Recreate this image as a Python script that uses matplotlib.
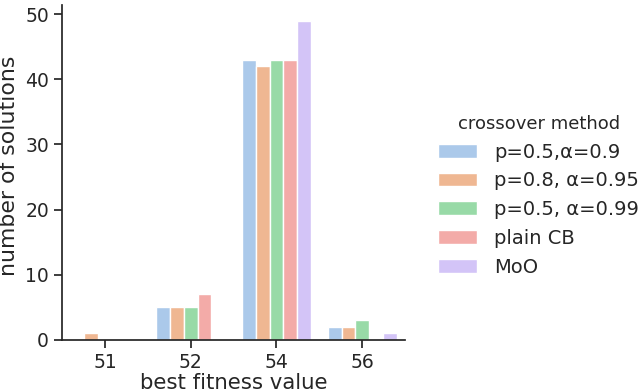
import matplotlib
matplotlib.use("Agg")
import matplotlib.pyplot as plt
import numpy as np
import colorsys
import matplotlib.colors as mcolors

categories = ["51", "52", "54", "56"]
methods = ["p=0.5,α=0.9", "p=0.8, α=0.95", "p=0.5, α=0.99", "plain CB", "MoO"]
counts = {
    "p=0.5,α=0.9":   [0, 5, 43, 2],
    "p=0.8, α=0.95": [1, 5, 42, 2],
    "p=0.5, α=0.99": [0, 5, 43, 3],
    "plain CB":      [0, 7, 43, 0],
    "MoO":           [0, 0, 49, 1],
}
pastel = ['#a1c9f4', '#ffb482', '#8de5a1', '#ff9f9b', '#d0bbff']

def desat(c, prop=0.75):
    r, g, b = mcolors.to_rgb(c)
    h, l, s = colorsys.rgb_to_hls(r, g, b)
    return colorsys.hls_to_rgb(h, l, s * prop)

colors = [desat(c) for c in pastel]

plt.rcParams['font.family'] = ['DejaVu Sans']
fig = plt.figure(figsize=(6.4, 3.92), dpi=100)
ax = fig.add_axes([0.097, 0.133, 0.536, 0.855])

x = np.arange(len(categories))
n = len(methods)
w = 0.8 / n
for i, m in enumerate(methods):
    ax.bar(x - 0.4 + w * (i + 0.5), counts[m], width=w, color=colors[i],
           edgecolor='white', linewidth=1.0, label=m)

ax.set_xlim(-0.5, 3.5)
ax.set_ylim(0, 51.45)
ax.set_xticks(x)
ax.set_xticklabels(categories)
ax.set_yticks([0, 10, 20, 30, 40, 50])
dark = '0.15'
for s in ['top', 'right']:
    ax.spines[s].set_visible(False)
for s in ['left', 'bottom']:
    ax.spines[s].set_linewidth(1.25)
    ax.spines[s].set_color(dark)
ax.tick_params(axis='both', length=6, width=1.25, color=dark, labelcolor=dark, labelsize=13.5)
ax.set_xlabel("best fitness value", fontsize=15.3, color=dark, labelpad=1)
ax.set_ylabel("number of solutions", fontsize=15.8, color=dark)
ax.yaxis.set_label_coords(-0.127, 0.518)

leg = ax.legend(title="crossover method", loc='center left', bbox_to_anchor=(1.045, 0.43),
                frameon=False, fontsize=14, title_fontsize=13, handletextpad=0.9)
for t in leg.get_texts():
    t.set_color(dark)
leg.get_title().set_color(dark)

fig.savefig("out.png", dpi=100)
